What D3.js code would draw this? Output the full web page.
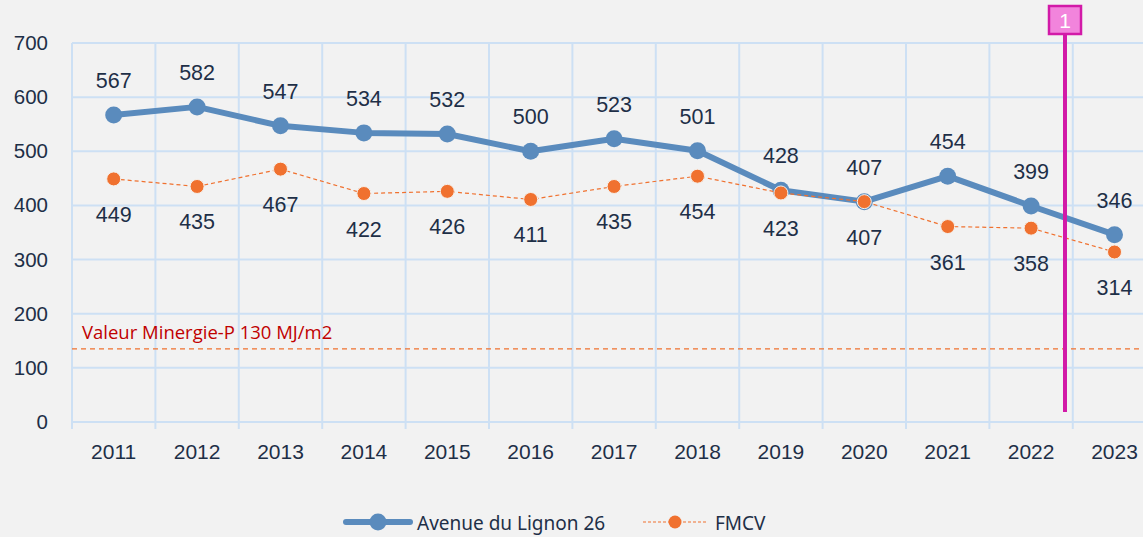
<!DOCTYPE html>
<html>
<head>
<meta charset="utf-8">
<script src="https://cdn.jsdelivr.net/npm/d3@7"></script>
<style>
  body { margin: 0; background: #f2f2f2; }
  svg { display: block; }
</style>
</head>
<body>
<script>
var w = 1143;
var h = 537;

// data
var years = ["2011","2012","2013","2014","2015","2016","2017","2018","2019","2020","2021","2022","2023"];
var lignon = [567,582,547,534,532,500,523,501,428,407,454,399,346];
var fmcv = [449,435,467,422,426,411,435,454,423,407,361,358,314];
var yTicks = [0,100,200,300,400,500,600,700];
var minergie = 135; // drawn position of the 130 MJ/m2 line
var minergieLabel = "Valeur Minergie-P 130 MJ/m2";
var seriesNames = ["Avenue du Lignon 26", "FMCV"];

var blue = "#5a8bbd";
var orange = "#f0712f";
var textCol = "#1e2f47";
var gridCol = "#cde0f4";
var font = "'Liberation Sans', Arial, sans-serif";

var x = d3.scaleBand().domain(years).range([72, 72 + 13 * 83.4]);
var y = d3.scaleLinear().domain([0, 700]).range([422, 43]);

var svg = d3.select("body")
            .append("svg")
            .attr("width", w)
            .attr("height", h);

svg.append("rect").attr("width", w).attr("height", h).attr("fill", "#f2f2f2");

// horizontal grid
svg.selectAll("line.hgrid")
    .data(yTicks)
    .enter()
    .append("line")
    .attr("x1", 72)
    .attr("x2", w)
    .attr("y1", function(d){ return y(d); })
    .attr("y2", function(d){ return y(d); })
    .attr("stroke", gridCol)
    .attr("stroke-width", 2);

// vertical grid at category boundaries, ticks below 0
var bounds = years.map(function(d){ return x(d); });
svg.selectAll("line.vgrid")
    .data(bounds)
    .enter()
    .append("line")
    .attr("x1", function(d){ return d; })
    .attr("x2", function(d){ return d; })
    .attr("y1", y(700))
    .attr("y2", y(0) + 7)
    .attr("stroke", gridCol)
    .attr("stroke-width", 2);

// y axis labels
svg.selectAll("text.ylab")
    .data(yTicks)
    .enter()
    .append("text")
    .text(function(d){ return d; })
    .attr("x", 48)
    .attr("y", function(d){ return y(d) + 7; })
    .attr("text-anchor", "end")
    .style("font-family", font)
    .style("font-size", "20.5px")
    .style("fill", textCol);

// x axis labels
svg.selectAll("text.xlab")
    .data(years)
    .enter()
    .append("text")
    .text(function(d){ return d; })
    .attr("x", function(d){ return x(d) + x.bandwidth() / 2; })
    .attr("y", 459)
    .attr("text-anchor", "middle")
    .style("font-family", font)
    .style("font-size", "21px")
    .style("fill", textCol);

// minergie reference line
svg.append("line")
    .attr("x1", 72)
    .attr("x2", w)
    .attr("y1", y(minergie))
    .attr("y2", y(minergie))
    .attr("stroke", orange)
    .attr("stroke-width", 1.2)
    .attr("stroke-dasharray", "5,4");

svg.append("text")
    .text(minergieLabel)
    .attr("x", 82)
    .attr("y", 339)
    .style("font-family", "'Open Sans', sans-serif")
    .style("font-size", "18.5px")
    .style("fill", "#c00000");

var cx = function(d, i){ return x(years[i]) + x.bandwidth() / 2; };

// blue series
var line = d3.line()
    .x(function(d, i){ return cx(d, i); })
    .y(function(d){ return y(d); });

svg.append("path")
    .datum(lignon)
    .attr("d", line)
    .attr("fill", "none")
    .attr("stroke", blue)
    .attr("stroke-width", 6)
    .attr("stroke-linejoin", "round");

svg.selectAll("circle.blue")
    .data(lignon)
    .enter()
    .append("circle")
    .attr("cx", cx)
    .attr("cy", function(d){ return y(d); })
    .attr("r", 8.5)
    .attr("fill", blue);

// orange series
svg.append("path")
    .datum(fmcv)
    .attr("d", line)
    .attr("fill", "none")
    .attr("stroke", orange)
    .attr("stroke-width", 1.2)
    .attr("stroke-dasharray", "4,3");

svg.selectAll("circle.orange")
    .data(fmcv)
    .enter()
    .append("circle")
    .attr("cx", cx)
    .attr("cy", function(d){ return y(d); })
    .attr("r", 7)
    .attr("fill", orange)
    .attr("stroke", "#f6f0ea")
    .attr("stroke-width", 1);

// data labels
svg.selectAll("text.blab")
    .data(lignon)
    .enter()
    .append("text")
    .text(function(d){ return d; })
    .attr("x", cx)
    .attr("y", function(d){ return y(d) - 27; })
    .attr("text-anchor", "middle")
    .style("font-family", font)
    .style("font-size", "21.5px")
    .style("fill", textCol);

svg.selectAll("text.olab")
    .data(fmcv)
    .enter()
    .append("text")
    .text(function(d){ return d; })
    .attr("x", cx)
    .attr("y", function(d){ return y(d) + 43; })
    .attr("text-anchor", "middle")
    .style("font-family", font)
    .style("font-size", "21.5px")
    .style("fill", textCol);

// marker "1"
var mx = 1065;
svg.append("line")
    .attr("x1", mx).attr("x2", mx)
    .attr("y1", 34).attr("y2", 412)
    .attr("stroke", "#d21aa8")
    .attr("stroke-width", 4);
svg.append("rect")
    .attr("x", mx - 16).attr("y", 6)
    .attr("width", 32).attr("height", 28)
    .attr("fill", "#f284dc")
    .attr("stroke", "#d21aa8")
    .attr("stroke-width", 2.5);
svg.append("text")
    .text("1")
    .attr("x", mx)
    .attr("y", 28)
    .attr("text-anchor", "middle")
    .style("font-family", font)
    .style("font-size", "21px")
    .style("fill", "#ffffff");

// legend
var ly = 522;
svg.append("line")
    .attr("x1", 346).attr("x2", 410)
    .attr("y1", ly).attr("y2", ly)
    .attr("stroke", blue)
    .attr("stroke-width", 6)
    .attr("stroke-linecap", "round");
svg.append("circle")
    .attr("cx", 378).attr("cy", ly).attr("r", 8.5)
    .attr("fill", blue);
svg.append("text")
    .text(seriesNames[0])
    .attr("x", 417).attr("y", ly + 8)
    .style("font-family", "'Noto Sans', sans-serif")
    .style("font-size", "19px")
    .style("fill", textCol);

svg.append("line")
    .attr("x1", 643).attr("x2", 708)
    .attr("y1", ly).attr("y2", ly)
    .attr("stroke", orange)
    .attr("stroke-width", 1.2)
    .attr("stroke-dasharray", "3,2");
svg.append("circle")
    .attr("cx", 675).attr("cy", ly).attr("r", 6.5)
    .attr("fill", orange);
svg.append("text")
    .text(seriesNames[1])
    .attr("x", 715).attr("y", ly + 8)
    .style("font-family", "'Noto Sans', sans-serif")
    .style("font-size", "19px")
    .style("fill", textCol);
</script>
</body>
</html>
